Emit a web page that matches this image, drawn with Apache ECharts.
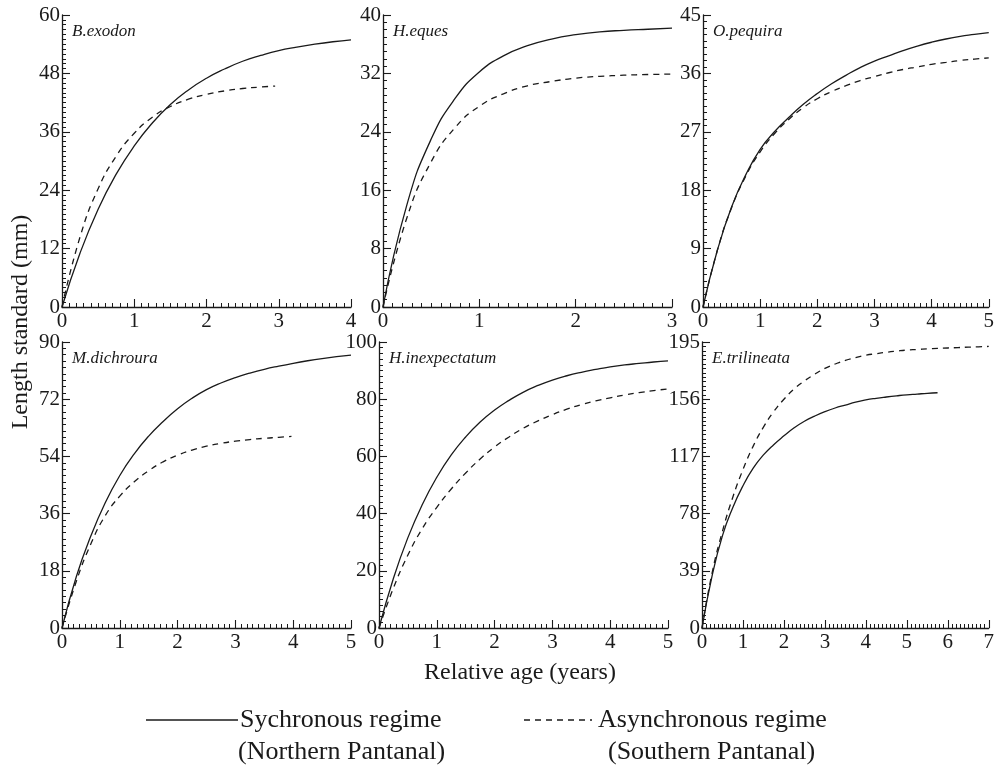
<!DOCTYPE html>
<html>
<head>
<meta charset="utf-8">
<script src="https://cdn.jsdelivr.net/npm/echarts@6/dist/echarts.min.js"></script>
<style>html,body{margin:0;padding:0;background:#fff}#c{width:997px;height:767px}</style>
</head>
<body>
<div id="c"></div>
<script>
// ---- data ----
const speciesNames = ['B.exodon', 'H.eques', 'O.pequira', 'M.dichroura', 'H.inexpectatum', 'E.trilineata'];
const xMaxima = [4, 3, 5, 5, 5, 7];
const yMaxima = [60, 40, 45, 90, 100, 195];
const yIntervals = [12, 8, 9, 18, 20, 39];

const bexodonSync = [[0,0],[0.25,11.1],[0.5,20.1],[0.75,27.3],[1,33.1],[1.25,37.8],[1.5,41.6],[1.75,44.6],[2,47.0],[2.25,48.9],[2.5,50.5],[2.75,51.7],[3,52.7],[3.25,53.4],[3.5,54.0],[3.75,54.5],[4,54.9]];
const bexodonAsync = [[0,0],[0.25,14.4],[0.5,24.3],[0.75,31.0],[1,35.7],[1.25,39.0],[1.5,41.2],[1.75,42.7],[2,43.7],[2.25,44.4],[2.5,44.9],[2.75,45.2],[2.95,45.4]];

const hequesSync = [[0,0],[0.25,14.1],[0.5,23.0],[0.75,28.6],[1,32.2],[1.25,34.4],[1.5,35.8],[1.75,36.7],[2,37.3],[2.25,37.7],[2.5,37.9],[2.75,38.05],[3,38.2]];
const hequesAsync = [[0,0],[0.25,12.3],[0.5,19.9],[0.75,24.6],[1,27.5],[1.25,29.2],[1.5,30.3],[1.75,30.9],[2,31.35],[2.25,31.6],[2.5,31.75],[2.75,31.85],[3,31.9]];

const opequiraSync = [[0,0],[0.25,8.7],[0.5,15.4],[0.75,20.4],[1,24.3],[1.25,27.0],[1.5,29.2],[1.75,31.2],[2,32.9],[2.25,34.4],[2.5,35.7],[2.75,36.9],[3,37.9],[3.25,38.7],[3.5,39.5],[3.75,40.2],[4,40.8],[4.25,41.3],[4.5,41.7],[4.75,42.0],[5,42.3]];
const opequiraAsync = [[0,0],[0.25,8.7],[0.5,15.3],[0.75,20.2],[1,23.9],[1.25,26.7],[1.5,28.9],[1.75,30.7],[2,32.1],[2.25,33.2],[2.5,34.1],[2.75,34.9],[3,35.5],[3.25,36.1],[3.5,36.6],[3.75,37.0],[4,37.4],[4.25,37.7],[4.5,38.0],[4.75,38.2],[5,38.4]];

const mdichrouraSync = [[0,0],[0.25,16.3],[0.5,29.0],[0.75,39.5],[1,48.0],[1.25,54.8],[1.5,60.4],[1.75,65.0],[2,69.0],[2.25,72.3],[2.5,75.0],[2.75,77.1],[3,78.8],[3.25,80.2],[3.5,81.4],[3.75,82.4],[4,83.3],[4.25,84.1],[4.5,84.8],[4.75,85.4],[5,85.9]];
const mdichrouraAsync = [[0,0],[0.25,14.8],[0.5,26.5],[0.75,35.4],[1,41.5],[1.25,46.0],[1.5,49.5],[1.75,52.3],[2,54.4],[2.25,56.0],[2.5,57.2],[2.75,58.1],[3,58.8],[3.25,59.3],[3.5,59.7],[3.75,60.0],[3.97,60.3]];

const hinexpectatumSync = [[0,0],[0.25,17.4],[0.5,31.6],[0.75,43.2],[1,52.7],[1.25,60.5],[1.5,66.8],[1.75,72.0],[2,76.2],[2.25,79.6],[2.5,82.5],[2.75,84.8],[3,86.7],[3.25,88.2],[3.5,89.4],[3.75,90.4],[4,91.3],[4.25,92.0],[4.5,92.5],[4.75,93.0],[5,93.4]];
const hinexpectatumAsync = [[0,0],[0.25,14.0],[0.5,25.5],[0.75,34.8],[1,42.2],[1.25,48.6],[1.5,54.2],[1.75,59.1],[2,63.3],[2.25,66.8],[2.5,69.9],[2.75,72.4],[3,74.6],[3.25,76.5],[3.5,78.1],[3.75,79.4],[4,80.5],[4.25,81.5],[4.5,82.3],[4.75,83.0],[5,83.6]];

const etrilineataSync = [[0,0],[0.25,36],[0.5,63],[0.75,82],[1,97],[1.25,109],[1.5,118],[1.75,125],[2,131],[2.25,136.5],[2.5,141],[2.75,144.5],[3,147.5],[3.25,150],[3.5,152],[3.75,154],[4,155.5],[4.25,156.6],[4.5,157.5],[4.75,158.3],[5,159],[5.25,159.5],[5.5,160],[5.75,160.4]];
const etrilineataAsync = [[0,0],[0.25,38],[0.5,66],[0.75,89],[1,108],[1.25,124],[1.5,137],[1.75,147.5],[2,156],[2.25,163],[2.5,168.5],[2.75,173],[3,177],[3.25,180],[3.5,182.5],[3.75,184.3],[4,186],[4.25,187],[4.5,188],[4.75,188.8],[5,189.5],[5.25,189.9],[5.5,190.3],[5.75,190.6],[6,190.9],[6.25,191.2],[6.5,191.5],[6.75,191.7],[7,192]];

const syncData = [bexodonSync, hequesSync, opequiraSync, mdichrouraSync, hinexpectatumSync, etrilineataSync];
const asyncData = [bexodonAsync, hequesAsync, opequiraAsync, mdichrouraAsync, hinexpectatumAsync, etrilineataAsync];

const yTitle = 'Length standard (mm)';
const xTitle = 'Relative age (years)';
const legendSync = ['Sychronous regime', '(Northern Pantanal)'];
const legendAsync = ['Asynchronous regime', '(Southern Pantanal)'];

// ---- layout ----
const FONT = '"Liberation Serif", "Times New Roman", serif';
const INK = '#1a1a1a';
const gridBoxes = [
  {left: 62, top: 15, width: 289, height: 292},
  {left: 383, top: 15, width: 289, height: 292},
  {left: 703, top: 15, width: 286, height: 292},
  {left: 62, top: 342, width: 289, height: 286},
  {left: 379, top: 342, width: 289, height: 286},
  {left: 702, top: 342, width: 290, height: 286}
];
const yMinorSplits = [12, 8, 9, 9, 10, 13];

const grid = [], xAxis = [], yAxis = [], series = [], graphic = [];
gridBoxes.forEach((b, i) => {
  grid.push(Object.assign({containLabel: false}, b));
  const axisLine = {show: true, onZero: false, lineStyle: {color: INK, width: 1.3}};
  xAxis.push({
    type: 'value', gridIndex: i, min: 0, max: xMaxima[i], interval: 1,
    axisLine: axisLine,
    axisTick: {show: true, inside: true, length: 8, lineStyle: {color: INK, width: 1.1}},
    minorTick: {show: true, splitNumber: 10, length: 4, lineStyle: {color: INK, width: 1}},
    splitLine: {show: false},
    axisLabel: {color: INK, fontFamily: FONT, fontSize: 21, margin: 4}
  });
  yAxis.push({
    type: 'value', gridIndex: i, min: 0, max: yMaxima[i], interval: yIntervals[i],
    axisLine: axisLine,
    axisTick: {show: true, inside: true, length: 8, lineStyle: {color: INK, width: 1.1}},
    minorTick: {show: true, splitNumber: yMinorSplits[i], length: 4, lineStyle: {color: INK, width: 1}},
    splitLine: {show: false},
    axisLabel: {color: INK, fontFamily: FONT, fontSize: 21, margin: 2}
  });
  series.push({
    type: 'line', xAxisIndex: i, yAxisIndex: i, data: syncData[i],
    smooth: 0.5, showSymbol: false, symbol: 'none',
    lineStyle: {color: INK, width: 1.3, type: 'solid'}, silent: true
  });
  series.push({
    type: 'line', xAxisIndex: i, yAxisIndex: i, data: asyncData[i],
    smooth: 0.5, showSymbol: false, symbol: 'none',
    lineStyle: {color: INK, width: 1.3, type: [6, 5]}, silent: true
  });
  graphic.push({
    type: 'text', left: b.left + 10, top: b.top + 8,
    style: {text: speciesNames[i], fill: INK, font: 'italic 17px ' + FONT}
  });
});

// axis titles
graphic.push({
  type: 'text', x: 21, y: 322, rotation: Math.PI / 2,
  style: {text: yTitle, fill: INK, font: '24px ' + FONT, textAlign: 'center', textVerticalAlign: 'middle'}
});
graphic.push({
  type: 'text', x: 520, y: 673,
  style: {text: xTitle, fill: INK, font: '24px ' + FONT, textAlign: 'center', textVerticalAlign: 'middle'}
});
// legend
graphic.push({type: 'line', shape: {x1: 146, y1: 720, x2: 238, y2: 720}, style: {stroke: INK, lineWidth: 1.3}});
graphic.push({type: 'text', x: 240, y: 720, style: {text: legendSync[0], fill: INK, font: '26px ' + FONT, textVerticalAlign: 'middle'}});
graphic.push({type: 'text', x: 238, y: 752, style: {text: legendSync[1], fill: INK, font: '26px ' + FONT, textVerticalAlign: 'middle'}});
graphic.push({type: 'line', shape: {x1: 524, y1: 720, x2: 592, y2: 720}, style: {stroke: INK, lineWidth: 1.3, lineDash: [6, 5]}});
graphic.push({type: 'text', x: 598, y: 720, style: {text: legendAsync[0], fill: INK, font: '26px ' + FONT, textVerticalAlign: 'middle'}});
graphic.push({type: 'text', x: 608, y: 752, style: {text: legendAsync[1], fill: INK, font: '26px ' + FONT, textVerticalAlign: 'middle'}});

const chart = echarts.init(document.getElementById('c'), null, {renderer: 'canvas'});
chart.setOption({
  backgroundColor: '#ffffff',
  animation: false,
  grid: grid, xAxis: xAxis, yAxis: yAxis, series: series, graphic: graphic
});
</script>
</body>
</html>
